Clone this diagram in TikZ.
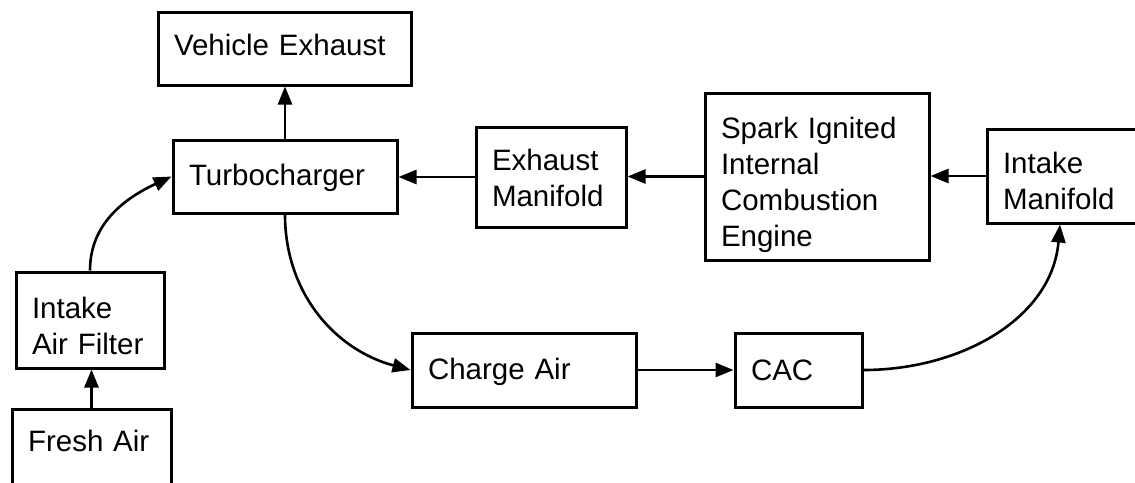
\documentclass[tikz,border=0pt]{standalone}
\usepackage{fontspec}
\setmainfont{Liberation Sans}
\usetikzlibrary{arrows.meta}
\newcommand\boxlines[2]{\raisebox{#1}[\height][\depth]{\begin{tabular}{@{}l@{}}#2\end{tabular}}}
\begin{document}
\begin{tikzpicture}[x=1pt,y=-1pt,
  box/.style={draw, line width=3pt, inner xsep=16pt, inner ysep=0pt, align=left,
    font=\fontsize{29.5}{36}\selectfont},
  flow/.style={line width=2.6pt, -{Triangle[length=18pt,width=14pt]}}]
\useasboundingbox (0,0) rectangle (1135,482);
\fill[white] (0,0) rectangle (1135,482);
\clip (0,0) rectangle (1135,482);
\node[box, text width=221pt, minimum height=73pt] (VE) at (284.5,48.5) {\boxlines{0pt}{Vehicle Exhaust}};
\node[box, text width=192pt, minimum height=73pt] (TC) at (285,176.5) {\boxlines{-2pt}{Turbocharger}};
\node[box, text width=118pt, minimum height=100pt] (EM) at (551,177) {\boxlines{-4pt}{Exhaust\\Manifold}};
\node[box, text width=192pt, minimum height=167pt] (EN) at (817,176.5) {\boxlines{-9pt}{Spark Ignited\\Internal\\Combustion\\Engine}};
\node[box, text width=126pt, minimum height=94pt] (IM) at (1066,176) {\boxlines{-8pt}{Intake\\Manifold}};
\node[box, text width=116pt, minimum height=96pt] (IAF) at (90,320) {\boxlines{-9pt}{Intake\\Air Filter}};
\node[box, text width=127pt, minimum height=81pt] (FA) at (91.5,449.5) {\boxlines{5pt}{Fresh Air}};
\node[box, text width=192pt, minimum height=74pt] (CA) at (524,370) {\boxlines{-2pt}{Charge Air}};
\node[box, text width=95pt, minimum height=74pt] (CAC) at (798.5,370) {\boxlines{-3pt}{CAC}};
\draw[flow] (TC.north) -- (TC.north |- VE.south);
\draw[flow] (EM.west) -- (EM.west -| TC.east);
\draw[flow] (EN.west) -- (EN.west -| EM.east);
\draw[flow] (IM.west) -- (IM.west -| EN.east);
\draw[flow] (FA.north) -- (FA.north |- IAF.south);
\draw[flow] (CA.east) -- (CAC.west);
\draw[flow] (IAF.north) to[out=90,in=205] (TC.west);
\draw[flow] (TC.south) to[out=-90,in=165] (CA.west);
\draw[flow] (CAC.east) to[out=0,in=-95] ([xshift=-6pt]IM.south);
\end{tikzpicture}
\end{document}
